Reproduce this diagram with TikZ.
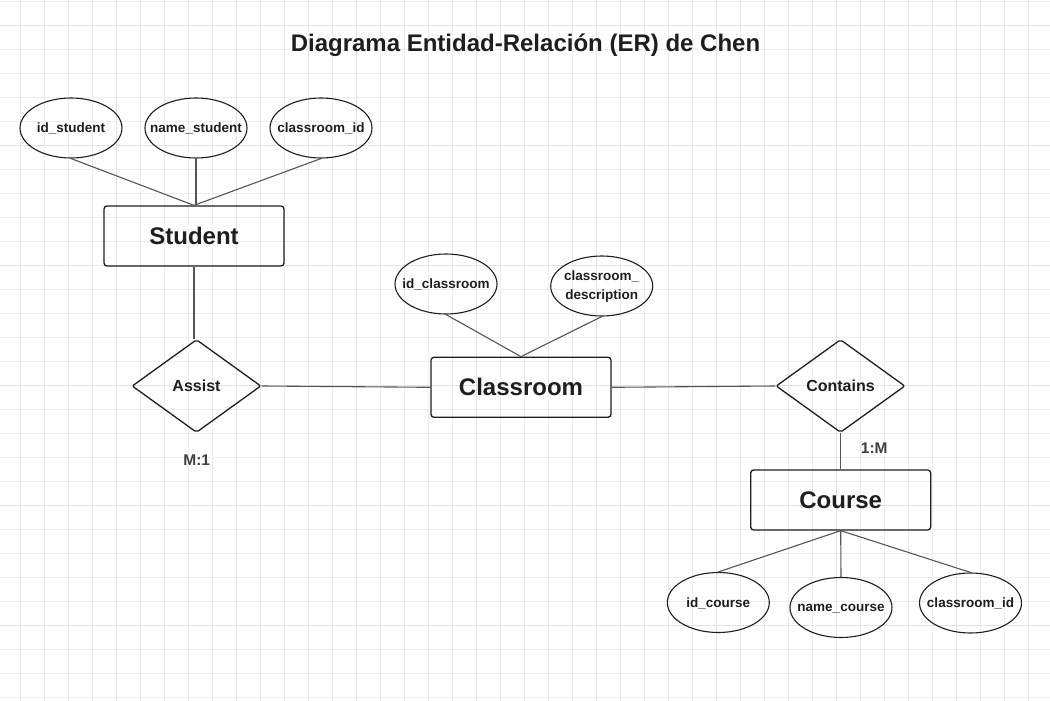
\documentclass[tikz,border=0pt]{standalone}
\usepackage{fontspec}
\setmainfont{Liberation Sans}
\usetikzlibrary{shapes.geometric}
\definecolor{gridminor}{HTML}{EEEEEE}
\definecolor{gridmajor}{HTML}{E3E3E3}
\definecolor{ink}{HTML}{1E1E1E}
\definecolor{connclr}{HTML}{555555}
\newcommand{\zw}[1]{\makebox[0pt][c]{#1}}
\tikzset{
  entitybox/.style={draw=ink, line width=1.3pt, rounded corners=3pt, minimum width=180pt, minimum height=60pt, inner sep=0pt, font=\bfseries\fontsize{24}{28}\selectfont, text=ink},
  attr/.style={ellipse, draw=ink, line width=1.1pt, minimum width=102pt, minimum height=60pt, inner sep=0pt, font=\bfseries\fontsize{13.5}{19}\selectfont, text=ink, text depth=0pt},
  rel/.style={diamond, draw=ink, line width=1.3pt, rounded corners=2pt, minimum width=129pt, minimum height=93pt, inner sep=0pt, aspect=1.39, font=\bfseries\fontsize{16}{19}\selectfont, text=ink},
  card/.style={font=\bfseries\fontsize{15.5}{18}\selectfont, text=ink!85, anchor=base, inner sep=0pt},
  conn/.style={draw=connclr, line width=1.1pt},
  gminor/.style={draw=gridminor, line width=1pt},
  gmajor/.style={draw=gridmajor, line width=1pt}
}
\begin{document}
\begin{tikzpicture}[x=1pt,y=-1pt]
\fill[white] (0,0) rectangle (1050,701);
\useasboundingbox (0,0) rectangle (1050,701);
% grid
\foreach \k in {0,...,42} {\draw[gminor] ({20.7+24*\k},0) -- ({20.7+24*\k},701);}
\foreach \k in {0,...,29} {\draw[gminor] (0,{1.3+24*\k}) -- (1050,{1.3+24*\k});}
\foreach \k in {4,9,...,39} {\draw[gmajor] ({20.7+24*\k},0) -- ({20.7+24*\k},701);}
\foreach \k in {1,6,...,26} {\draw[gmajor] (0,{1.3+24*\k}) -- (1050,{1.3+24*\k});}

% title
\node[font=\bfseries\fontsize{24}{28}\selectfont, text=ink, anchor=base, inner sep=0pt] (title) at (525.5,51.7) {Diagrama Entidad-Relación (ER) de Chen};

% Student
\node[entitybox] (student) at (194,236) {Student};
\node[attr] (s1) at (71,128) {\zw{id\_student}};
\node[attr] (s2) at (196,128) {\zw{name\_student}};
\node[attr] (s3) at (321,128) {\zw{classroom\_id}};
\draw[conn] (s1.south) -- (student.north);
\draw[conn] (s2.south) -- (s2.south |- student.north);
\draw[conn] (s3.south) -- (student.north);

% Assist
\node[rel] (assist) at (196.5,386) {Assist};
\node[card] (m1) at (196.7,465) {M:1};
\draw[conn] (student.south) -- (student.south |- assist.north);

% Classroom
\node[entitybox] (classroom) at (521,387.3) {Classroom};
\node[attr] (c1) at (446,284) {\zw{id\_classroom}};
\node[attr] (c2) at (601.7,286) {\zw{\raisebox{-4pt}[0pt][0pt]{\begin{tabular}{@{}c@{}}classroom\_\\description\end{tabular}}}};
\draw[conn] (c1.south) -- (classroom.north);
\draw[conn] (c2.south) -- (classroom.north);
\draw[conn] (assist.east) -- (classroom.west);

% Contains
\node[rel] (contains) at (840.5,386) {Contains};
\node[card] (onem) at (874.3,453.3) {1:M};
\draw[conn] (classroom.east) -- (contains.west);

% Course
\node[entitybox] (course) at (840.7,500) {Course};
\node[attr] (k1) at (718.3,602.5) {\zw{id\_course}};
\node[attr] (k2) at (841,607.5) {\zw{name\_course}};
\node[attr] (k3) at (970.5,603) {\zw{classroom\_id}};
\draw[conn] (contains.south) -- (contains.south |- course.north);
\draw[conn] (course.south) -- (k1.north);
\draw[conn] (course.south) -- (k2.north);
\draw[conn] (course.south) -- (k3.north);
\end{tikzpicture}
\end{document}
